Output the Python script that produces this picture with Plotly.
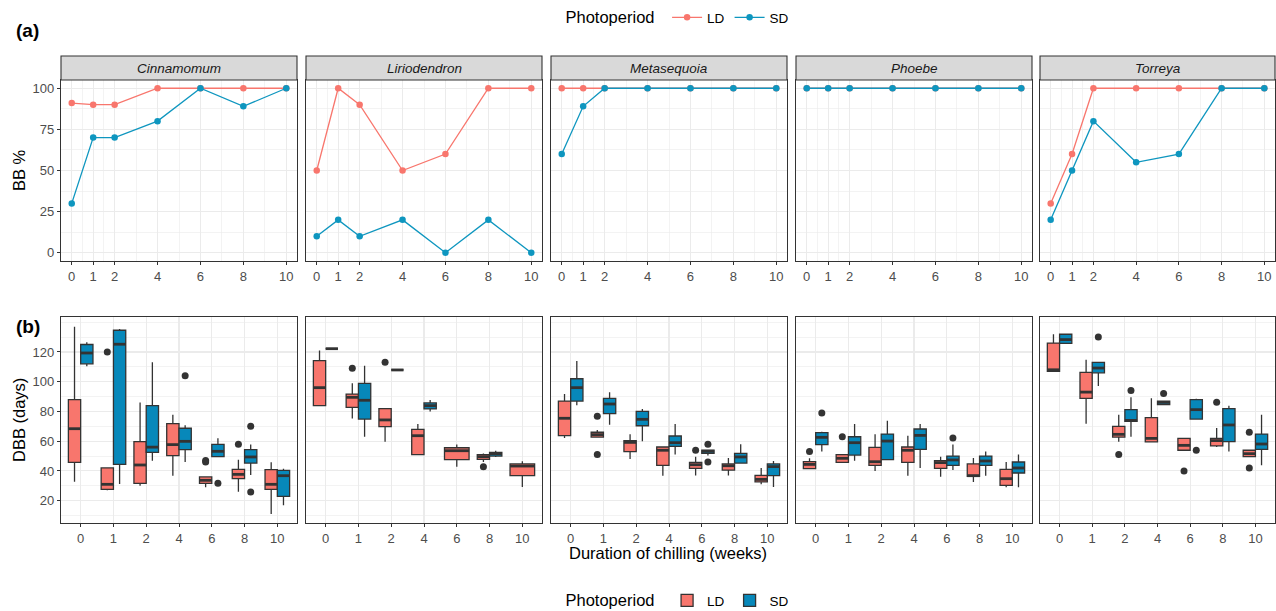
import plotly.graph_objects as go

# ---------------- data ----------------
genera = ["Cinnamomum", "Liriodendron", "Metasequoia", "Phoebe", "Torreya"]
weeks = [0, 1, 2, 4, 6, 8, 10]
week_labels = ["0", "1", "2", "4", "6", "8", "10"]
periods = ["LD", "SD"]

# (a) bud-burst percentage per week
bb_cin_LD = [91, 90, 90, 100, 100, 100, 100]
bb_cin_SD = [30, 70, 70, 80, 100, 89, 100]
bb_lir_LD = [50, 100, 90, 50, 60, 100, 100]
bb_lir_SD = [10, 20, 10, 20, 0, 20, 0]
bb_met_LD = [100, 100, 100, 100, 100, 100, 100]
bb_met_SD = [60, 89, 100, 100, 100, 100, 100]
bb_pho_LD = [100, 100, 100, 100, 100, 100, 100]
bb_pho_SD = [100, 100, 100, 100, 100, 100, 100]
bb_tor_LD = [30, 60, 100, 100, 100, 100, 100]
bb_tor_SD = [20, 50, 80, 55, 60, 100, 100]

# (b) DBB box statistics per week: [lower whisker, Q1, median, Q3, upper whisker]
dbb_cin_LD = [[32.8, 45.8, 68.4, 88, 137], [27, 27.6, 31, 42, 42], [30, 31.7, 44, 59.7, 86],
              [36.8, 50.3, 57.7, 71.8, 77.8], [29, 31.7, 33.7, 36, 36], [26, 34.8, 37.7, 41, 47.6],
              [11, 27.6, 31, 40.9, 45.8]]
dbb_cin_SD = [[110.4, 112, 119.3, 125, 126.5], [31.2, 44.4, 125.2, 134.6, 135.5], [46.9, 52.5, 56, 83.9, 113],
              [46, 54.3, 59.9, 68.7, 70.7], [49.6, 49.6, 53.2, 57.9, 62], [37.3, 45.3, 49.4, 54.3, 57.7],
              [17, 22.9, 36.8, 40.4, 41.5]]
dbb_lir_LD = [[83.9, 83.9, 96, 114.2, 120.9], [75.2, 82.8, 89.5, 91.7, 98.9], [59.7, 69.8, 74.3, 81.9, 81.9],
              [51, 51, 63.7, 68, 71.6], [42.9, 47.6, 53.6, 55.6, 57.7], [46, 47.8, 49.6, 51, 51.8],
              [29.2, 36.8, 43.3, 44.7, 46.5]]
dbb_lir_SD = [[122.2, 122.2, 122.2, 122.2, 122.2], [63, 74.9, 87.5, 98.9, 110.8], [107.9, 107.9, 107.9, 107.9, 107.9],
              [80, 81.7, 83.9, 85.7, 87.7], None, [49.4, 50, 51.6, 52.5, 53.6], None]
dbb_met_LD = [[62.2, 63.7, 75.4, 87, 91.7], [62.8, 62.8, 64.4, 66, 67.5], [48, 53, 59.2, 60.4, 64.6],
              [36.8, 43.8, 53.9, 56.1, 56.1], [37, 41.7, 44.2, 45.8, 49.6], [37, 40.6, 43.5, 44.7, 48.7],
              [31, 32.6, 34.3, 37, 42]]
dbb_met_SD = [[84.1, 87, 96, 102, 113.9], [71.1, 78.5, 85, 88.8, 92.9], [59.9, 70.4, 74.7, 80.1, 81.7],
              [51, 56.5, 59, 63.5, 71.6], [50.3, 51.8, 53.2, 54, 54.5], [45.3, 45.3, 49.4, 51.8, 57.9],
              [29.2, 36.8, 42.9, 44.7, 46.7]]
dbb_pho_LD = [[41.5, 41.5, 44.4, 46.2, 48.5], [45.8, 45.8, 48.5, 51, 51.4], [40, 43.8, 46.2, 55.9, 64.6],
              [36.8, 45.8, 53.9, 56.1, 63.7], [36.1, 41.7, 45.6, 46.9, 49.6], [32.6, 36.4, 36.8, 44.7, 48.7],
              [29, 30.3, 34.8, 41, 46]]
dbb_pho_SD = [[53, 57.7, 62.6, 65.7, 66.4], [46.9, 50.7, 59, 63, 71.6], [47.6, 47.6, 60.1, 64.8, 73.8],
              [42, 54.5, 63.9, 68.2, 71.6], [40.6, 43.8, 47.4, 50, 57.7], [36.8, 43.8, 46.7, 50, 53],
              [29, 38.6, 42, 46, 51]]
dbb_tor_LD = [[107, 107, 108, 126, 131.9], [71.8, 88.8, 93, 106.3, 114.8], [59.7, 62.8, 64.6, 70, 77.8],
              [59.5, 59.5, 61.9, 75.8, 88.8], [53.9, 53.9, 57.2, 61.9, 61.9], [56.1, 56.8, 60.4, 61.9, 68.9],
              [49.6, 49.6, 51.6, 53.9, 54]]
dbb_tor_SD = [[125.8, 125.8, 128.3, 131.9, 132.3], [97.1, 106, 109.2, 113, 113], [63, 73.4, 74, 81.2, 89.5],
              [84.6, 84.6, 86.1, 87, 87.3], [74.9, 74.9, 81.2, 87.9, 88.6], [53, 59.7, 70.9, 81.9, 83.9],
              [43.8, 54.5, 58.1, 64.8, 77.8]]

# outliers: (week index, value)
out_cin_LD = [(1, 120), (4, 46), (4, 47), (5, 58)]
out_cin_SD = [(3, 104), (4, 31.7), (5, 70), (5, 25.8)]
out_lir_LD = [(1, 109), (2, 113), (5, 42.9)]
out_lir_SD = []
out_met_LD = [(1, 76.7), (1, 51), (4, 53.9)]
out_met_SD = [(4, 57.9), (4, 46)]
out_pho_LD = [(0, 53), (1, 63)]
out_pho_SD = [(0, 79), (4, 62.2)]
out_tor_LD = [(2, 51), (4, 40), (5, 86.1), (6, 66), (6, 42)]
out_tor_SD = [(1, 130), (2, 94), (3, 92), (4, 53.9)]

bb = {("Cinnamomum", "LD"): bb_cin_LD, ("Cinnamomum", "SD"): bb_cin_SD,
      ("Liriodendron", "LD"): bb_lir_LD, ("Liriodendron", "SD"): bb_lir_SD,
      ("Metasequoia", "LD"): bb_met_LD, ("Metasequoia", "SD"): bb_met_SD,
      ("Phoebe", "LD"): bb_pho_LD, ("Phoebe", "SD"): bb_pho_SD,
      ("Torreya", "LD"): bb_tor_LD, ("Torreya", "SD"): bb_tor_SD}
dbb = {("Cinnamomum", "LD"): dbb_cin_LD, ("Cinnamomum", "SD"): dbb_cin_SD,
       ("Liriodendron", "LD"): dbb_lir_LD, ("Liriodendron", "SD"): dbb_lir_SD,
       ("Metasequoia", "LD"): dbb_met_LD, ("Metasequoia", "SD"): dbb_met_SD,
       ("Phoebe", "LD"): dbb_pho_LD, ("Phoebe", "SD"): dbb_pho_SD,
       ("Torreya", "LD"): dbb_tor_LD, ("Torreya", "SD"): dbb_tor_SD}
outl = {("Cinnamomum", "LD"): out_cin_LD, ("Cinnamomum", "SD"): out_cin_SD,
        ("Liriodendron", "LD"): out_lir_LD, ("Liriodendron", "SD"): out_lir_SD,
        ("Metasequoia", "LD"): out_met_LD, ("Metasequoia", "SD"): out_met_SD,
        ("Phoebe", "LD"): out_pho_LD, ("Phoebe", "SD"): out_pho_SD,
        ("Torreya", "LD"): out_tor_LD, ("Torreya", "SD"): out_tor_SD}

# ---------------- style ----------------
W, H = 1276, 611          # reference pixel frame (positions below are in it)
FIG_H = 617               # rendered page height
FONT = "Liberation Sans, Arial, sans-serif"
LINE_COL = {"LD": "#F8766D", "SD": "#0E96BF"}
FILL_COL = {"LD": "#F8766D", "SD": "#0788BA"}
DARK = "#333333"
GRID = "#EBEBEB"
TICKC = "#4D4D4D"

panel_px = [(61, 297), (306, 542), (551, 787), (796, 1032), (1040, 1275)]
top_px = (80, 261)
bot_px = (317, 523)
strip_px = (56, 80)
GROUP_W = 0.75


def xd(a, b):
    return [a / W, b / W]


def yd(a, b):
    return [1 - b / H, 1 - a / H]


fig = go.Figure()
layout = {}

for i, g in enumerate(genera):
    ti, bi = i + 1, i + 6
    tx = "x" if ti == 1 else f"x{ti}"
    ty = "y" if ti == 1 else f"y{ti}"
    bx, by = f"x{bi}", f"y{bi}"

    # ---- top: lines ----
    for p in periods:
        fig.add_trace(go.Scatter(
            x=weeks, y=bb[(g, p)], mode="lines+markers", name=p,
            line=dict(color=LINE_COL[p], width=1.3),
            marker=dict(color=LINE_COL[p], size=6.5),
            xaxis=tx, yaxis=ty, legend="legend", legendgroup="top" + p,
            showlegend=(i == 0), hoverinfo="skip"))

    # ---- bottom: boxes ----
    med_x, med_y = [], []
    for p in periods:
        other = "SD" if p == "LD" else "LD"
        ox, oy = [], []
        for k in range(len(weeks)):
            st = dbb[(g, p)][k]
            if st is None:
                continue
            both = dbb[(g, other)][k] is not None
            w = GROUP_W / 2 if both else GROUP_W
            off = (-GROUP_W / 4 if p == "LD" else GROUP_W / 4) if both else 0
            pos = k + off
            fig.add_trace(go.Box(
                x=[pos], lowerfence=[st[0]], q1=[st[1]], median=[st[2]], q3=[st[3]],
                upperfence=[st[4]], width=w, fillcolor=FILL_COL[p],
                line=dict(color=DARK, width=1.3), whiskerwidth=0, boxpoints=False,
                name=p, legend="legend2", legendgroup="bot" + p,
                showlegend=(i == 0 and k == 0), xaxis=bx, yaxis=by, hoverinfo="skip"))
            med_x += [pos - w / 2, pos + w / 2, None]
            med_y += [st[2], st[2], None]
            for (kk, v) in outl[(g, p)]:
                if kk == k:
                    ox.append(pos)
                    oy.append(v)
        if ox:
            fig.add_trace(go.Scatter(
                x=ox, y=oy, mode="markers", marker=dict(color=DARK, size=7),
                xaxis=bx, yaxis=by, showlegend=False, hoverinfo="skip"))
    fig.add_trace(go.Scatter(
        x=med_x, y=med_y, mode="lines", line=dict(color=DARK, width=2.8),
        xaxis=bx, yaxis=by, showlegend=False, hoverinfo="skip"))

    common = dict(showline=True, mirror=True, linecolor=DARK, linewidth=1.1,
                  zeroline=False, showgrid=True, gridcolor=GRID, gridwidth=1.1,
                  ticks="outside", ticklen=3, tickcolor=DARK, tickwidth=1,
                  tickfont=dict(family=FONT, size=13, color=TICKC))
    a, b = panel_px[i]
    layout["xaxis" if ti == 1 else f"xaxis{ti}"] = dict(
        common, domain=xd(a, b), anchor=ty, range=[-0.5, 10.5],
        tickmode="array", tickvals=weeks, ticktext=week_labels,
        minor=dict(tickmode="array", tickvals=[-0.5, 0.5, 1.5, 3, 5, 7, 9, 10.5],
                   showgrid=True, gridcolor=GRID, gridwidth=0.6, ticks=""))
    layout["yaxis" if ti == 1 else f"yaxis{ti}"] = dict(
        common, domain=yd(*top_px), anchor=tx, range=[-5, 105],
        tickmode="array", tickvals=[0, 25, 50, 75, 100],
        showticklabels=(i == 0), ticks="outside" if i == 0 else "",
        minor=dict(tickmode="array", tickvals=[12.5, 37.5, 62.5, 87.5],
                   showgrid=True, gridcolor=GRID, gridwidth=0.6, ticks=""))
    layout[f"xaxis{bi}"] = dict(
        common, domain=xd(a, b), anchor=by, range=[-0.6, 6.6],
        tickmode="array", tickvals=list(range(len(weeks))), ticktext=week_labels)
    layout[f"yaxis{bi}"] = dict(
        common, domain=yd(*bot_px), anchor=bx, range=[5, 143.5],
        tickmode="array", tickvals=[20, 40, 60, 80, 100, 120],
        showticklabels=(i == 0), ticks="outside" if i == 0 else "",
        minor=dict(tickmode="array", tickvals=[10, 30, 50, 70, 90, 110, 130, 140],
                   showgrid=True, gridcolor=GRID, gridwidth=0.6, ticks=""))

shapes, annotations = [], []
for i, g in enumerate(genera):
    a, b = panel_px[i]
    shapes.append(dict(type="rect", xref="paper", yref="paper",
                       x0=a / W, x1=b / W, y0=1 - strip_px[1] / H, y1=1 - strip_px[0] / H,
                       fillcolor="#D9D9D9", line=dict(color=DARK, width=1.1)))
    annotations.append(dict(xref="paper", yref="paper", x=(a + b) / 2 / W,
                            y=1 - (strip_px[0] + strip_px[1]) / 2 / H,
                            text=f"<i>{g}</i>", showarrow=False,
                            font=dict(family=FONT, size=13.5, color="#1A1A1A"),
                            xanchor="center", yanchor="middle"))

TITLE_SIZE = 16.5
annotations += [
    dict(xref="paper", yref="paper", x=14 / W, y=1 - 30 / H, text="<b>(a)</b>", showarrow=False,
         xanchor="left", yanchor="middle", font=dict(family=FONT, size=19, color="black")),
    dict(xref="paper", yref="paper", x=14 / W, y=1 - 326 / H, text="<b>(b)</b>", showarrow=False,
         xanchor="left", yanchor="middle", font=dict(family=FONT, size=19, color="black")),
    dict(xref="paper", yref="paper", x=19 / W, y=1 - 170 / H, text="BB %", showarrow=False,
         textangle=-90, xanchor="center", yanchor="middle",
         font=dict(family=FONT, size=TITLE_SIZE, color="black")),
    dict(xref="paper", yref="paper", x=19 / W, y=1 - 420 / H, text="DBB (days)", showarrow=False,
         textangle=-90, xanchor="center", yanchor="middle",
         font=dict(family=FONT, size=TITLE_SIZE, color="black")),
    dict(xref="paper", yref="paper", x=668 / W, y=1 - 553 / H, text="Duration of chilling (weeks)",
         showarrow=False, xanchor="center", yanchor="middle",
         font=dict(family=FONT, size=TITLE_SIZE, color="black")),
]

leg_common = dict(orientation="h", xanchor="center", x=679 / W, yanchor="middle",
                  bgcolor="rgba(0,0,0,0)", font=dict(family=FONT, size=13.5, color="black"),
                  title=dict(text="Photoperiod ", side="left",
                             font=dict(family=FONT, size=TITLE_SIZE, color="black")),
                  itemwidth=30, tracegroupgap=0)

fig.update_layout(
    width=W, height=FIG_H, margin=dict(l=0, r=0, t=0, b=0),
    plot_bgcolor="white", paper_bgcolor="white",
    font=dict(family=FONT), boxmode="overlay", showlegend=True,
    legend=dict(leg_common, y=1 - 18 / H),
    legend2=dict(leg_common, y=1 - 601 / H),
    shapes=shapes, annotations=annotations,
    **layout)

fig.write_html("out.html", config={"displayModeBar": False, "staticPlot": True},
               post_script="document.documentElement.style.margin='0';"
                           "document.documentElement.style.overflow='hidden';"
                           "document.body.style.margin='0';document.body.style.padding='0';"
                           "document.body.style.overflow='hidden';")
